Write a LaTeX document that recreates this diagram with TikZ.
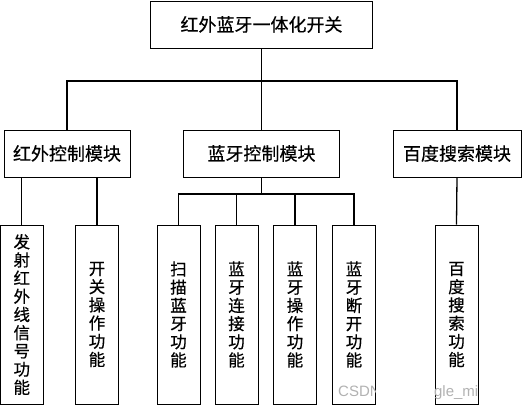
\documentclass[tikz,border=0pt]{standalone}
\usepackage{fontspec}
\newfontfamily\cjk[FakeBold=0.5]{Noto Sans CJK SC}
\newfontfamily\wm{Liberation Sans}
\begin{document}
\begin{tikzpicture}[x=1pt,y=-1pt,
  box/.style={draw=black,line width=0.9pt,fill=white,inner sep=0pt},
  hbox/.style={box,minimum height=47pt,font=\cjk\fontsize{18}{20}\selectfont},
  leaf/.style={box,minimum width=43pt,minimum height=179pt,align=center,font=\cjk\fontsize{16.5}{18.2}\selectfont},
  conn/.style={line width=1.3pt}]
\useasboundingbox (0,0) rectangle (523,409);
\node[hbox,minimum width=222pt] (top) at (261.5,24.5) {红外蓝牙一体化开关};
\node[hbox,minimum width=126pt] (red) at (67,153.5) {红外控制模块};
\node[hbox,minimum width=156pt] (blue) at (261.5,153.5) {蓝牙控制模块};
\node[hbox,minimum width=128pt] (baidu) at (457,153.5) {百度搜索模块};
\node[leaf] (l1) at (21.8,314.5) {发\\射\\红\\外\\线\\信\\号\\功\\能};
\node[leaf] (l2) at (97,314.5) {开\\关\\操\\作\\功\\能};
\node[leaf] (l3) at (178.5,314.5) {扫\\描\\蓝\\牙\\功\\能};
\node[leaf] (l4) at (236.5,314.5) {蓝\\牙\\连\\接\\功\\能};
\node[leaf] (l5) at (295,314.5) {蓝\\牙\\操\\作\\功\\能};
\node[leaf] (l6) at (354,314.5) {蓝\\牙\\断\\开\\功\\能};
\node[leaf] (l7) at (456.5,314.5) {百\\度\\搜\\索\\功\\能};
\coordinate (b1) at (0,81);
\coordinate (b2) at (0,194);
\draw[conn] (top.south) -- (blue.north);
\draw[conn] (red.north) |- (b1 -| top.south) -| (baidu.north);
\draw[conn] (l1.north |- red.south) -- (l1.north);
\draw[conn] (l2.north |- red.south) -- (l2.north);
\draw[conn] (blue.south) -- (blue.south |- b2);
\draw[conn] (l3.north) |- (b2 -| blue.south) -| (l6.north);
\draw[conn] (l4.north) -- (l4.north |- b2);
\draw[conn] (l5.north) -- (l5.north |- b2);
\draw[conn] (baidu.south) -- (l7.north);
\begin{scope}
\clip (l6.south west) rectangle (l6.north east);
\node[anchor=base west,inner sep=0pt,text=black!30,font=\wm\fontsize{15}{15}\selectfont] (wm1) at (338,396) {CSDN};
\end{scope}
\begin{scope}
\clip (l7.south west) rectangle (l7.north east);
\node[anchor=base east,inner sep=0pt,text=black!30,font=\wm\fontsize{15}{15}\selectfont] (wm2) at (478.5,396) {ngle\_mi};
\end{scope}
\end{tikzpicture}
\end{document}
